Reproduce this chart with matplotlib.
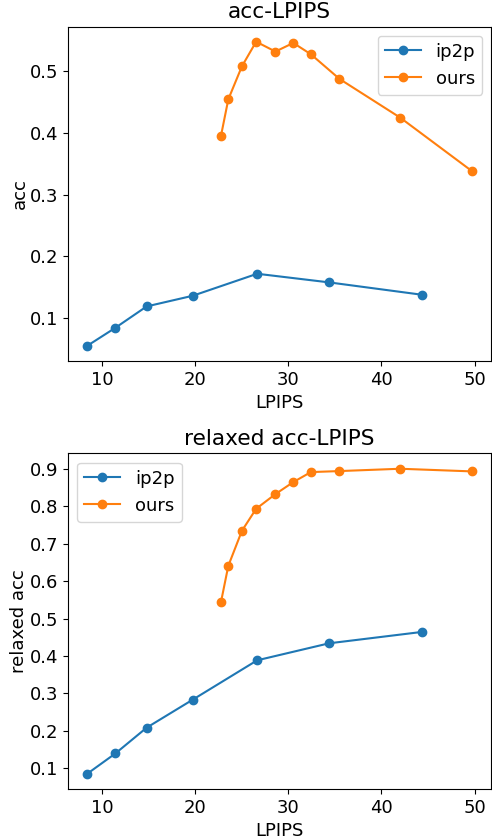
import matplotlib
matplotlib.use("Agg")
import matplotlib.pyplot as plt

ip2p_lpips = [8.40, 11.43, 14.78, 19.73, 26.65, 34.38, 44.37]
ours_lpips = [22.76, 23.55, 25.01, 26.54, 28.61, 30.53, 32.42, 35.49, 42.01, 49.75]

ip2p_acc = [0.0545, 0.0838, 0.1184, 0.1357, 0.1714, 0.1574, 0.1373]
ours_acc = [0.395, 0.4545, 0.508, 0.548, 0.532, 0.546, 0.5276, 0.4876, 0.4248, 0.3376]

ip2p_relaxed = [0.0857, 0.140, 0.2087, 0.2835, 0.3886, 0.434, 0.4644]
ours_relaxed = [0.5437, 0.6408, 0.7343, 0.7931, 0.8323, 0.8644, 0.8911, 0.8938, 0.900, 0.8929]

plt.rcParams['font.size'] = 13

fig = plt.figure(figsize=(4.92, 8.38), dpi=100)
W, H = 492, 838
def ax_at(l, t, r, b):
    return fig.add_axes([l / W, 1 - b / H, (r - l) / W, (b - t) / H])

ax1 = ax_at(68, 26.5, 491.5, 361)
ax1.plot(ip2p_lpips, ip2p_acc, marker='o', label='ip2p')
ax1.plot(ours_lpips, ours_acc, marker='o', label='ours')
ax1.set_title('acc-LPIPS')
ax1.set_xlabel('LPIPS')
ax1.set_ylabel('acc', labelpad=1)
ax1.legend(loc='upper right')

ax2 = ax_at(68, 453.5, 491.5, 789)
ax2.plot(ip2p_lpips, ip2p_relaxed, marker='o', label='ip2p')
ax2.plot(ours_lpips, ours_relaxed, marker='o', label='ours')
ax2.set_title('relaxed acc-LPIPS')
ax2.set_xlabel('LPIPS')
ax2.set_ylabel('relaxed acc', labelpad=1)
ax2.legend(loc='upper left')

fig.savefig('out.png', dpi=100)
